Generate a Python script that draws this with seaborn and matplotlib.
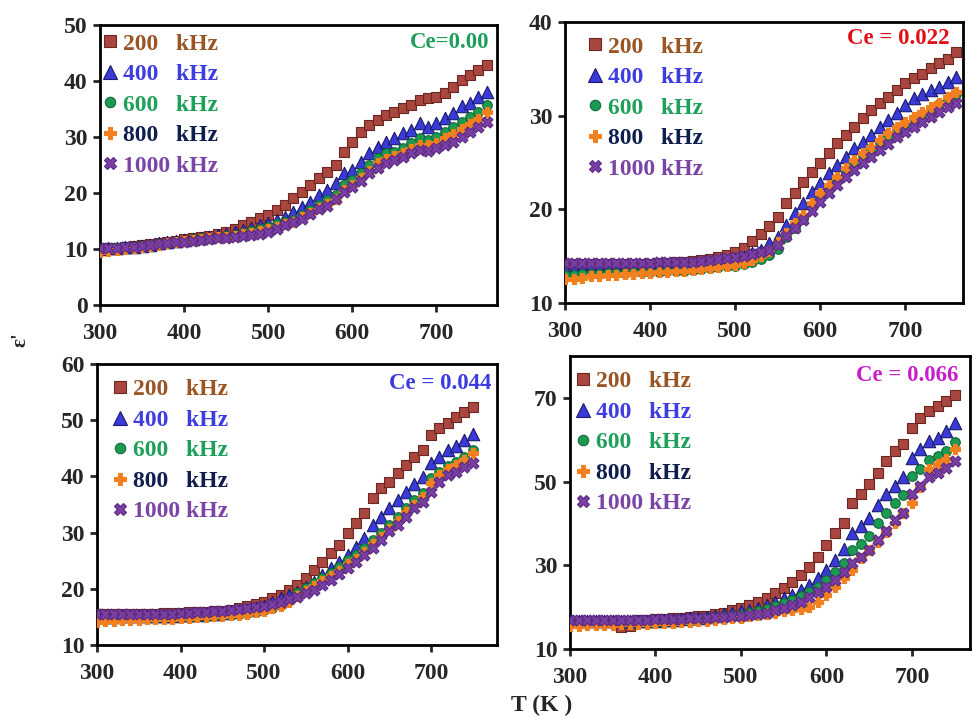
import numpy as np
import pandas as pd
import matplotlib
matplotlib.use("Agg")
import matplotlib.pyplot as plt
from matplotlib.lines import Line2D
import seaborn as sns

# ---------------- data ----------------
T_a = [300, 310, 320, 330, 340, 350, 360, 370, 380, 390, 400, 410, 420, 430, 440, 450,
       460, 470, 480, 490, 500, 510, 520, 530, 540, 550, 560, 570, 580, 590, 600, 610,
       620, 630, 640, 650, 660, 670, 680, 690, 700, 710, 720, 730, 740, 750, 760]
T_b = [300, 310, 320, 330, 340, 350, 360, 370, 380, 390, 400, 410, 420, 430, 440, 450,
       460, 470, 480, 490, 500, 510, 520, 530, 540, 550, 560, 570, 580, 590, 600, 610,
       620, 630, 640, 650, 660, 670, 680, 690, 700, 710, 720, 730, 740, 750]

freq_labels = ["200   kHz", "400   kHz", "600   kHz", "800   kHz", "1000 kHz"]
ce_labels = ["Ce=0.00", "Ce = 0.022", "Ce = 0.044", "Ce = 0.066"]

# Ce = 0.00
e00_200 = [10.0, 10.1, 10.2, 10.3, 10.5, 10.7, 10.9, 11.1, 11.3, 11.5, 11.7, 11.9, 12.1, 12.4, 12.7, 13.0,
           13.6, 14.3, 14.8, 15.5, 16.1, 17.0, 17.9, 19.1, 20.2, 21.4, 22.7, 23.8, 25.0, 27.3, 29.1, 30.9,
           32.1, 33.0, 33.9, 34.5, 35.2, 35.7, 36.6, 37.0, 37.1, 37.8, 38.9, 40.2, 41.1, 42.0, 42.9]
e00_400 = [10.0, 10.1, 10.2, 10.3, 10.4, 10.6, 10.8, 11.0, 11.2, 11.4, 11.6, 11.8, 12.0, 12.2, 12.5, 12.7,
           13.0, 13.4, 13.8, 14.3, 14.6, 15.2, 15.7, 16.6, 17.5, 18.4, 19.6, 20.5, 21.8, 23.6, 24.1, 25.5,
           27.1, 28.2, 29.1, 29.8, 30.7, 31.2, 32.5, 31.8, 32.5, 33.4, 34.3, 35.5, 36.1, 37.1, 38.0]
e00_600 = [9.9, 10.0, 10.1, 10.2, 10.3, 10.5, 10.7, 10.9, 11.1, 11.3, 11.5, 11.7, 11.9, 12.0, 12.2, 12.3,
           12.5, 12.8, 13.2, 13.6, 14.0, 14.4, 14.8, 15.2, 16.1, 17.0, 17.9, 18.8, 19.6, 21.4, 22.3, 23.6,
           25.0, 26.2, 27.1, 27.3, 28.0, 28.9, 29.8, 29.5, 30.0, 30.9, 31.8, 32.7, 33.6, 34.5, 35.7]
e00_800 = [9.5, 9.7, 9.9, 10.0, 10.2, 10.4, 10.6, 10.8, 11.0, 11.2, 11.4, 11.6, 11.8, 11.9, 12.1, 12.2,
           12.4, 12.6, 12.9, 13.3, 13.6, 14.0, 14.4, 14.9, 15.7, 16.5, 17.3, 18.1, 19.0, 20.6, 21.4, 22.6,
           24.0, 25.3, 26.1, 26.6, 27.2, 27.9, 28.6, 28.5, 29.0, 29.8, 30.6, 31.5, 32.4, 33.2, 34.4]
e00_1000 = [10.1, 10.1, 10.2, 10.3, 10.4, 10.6, 10.7, 10.9, 11.0, 11.2, 11.3, 11.5, 11.6, 11.8, 11.9, 12.0,
            12.1, 12.3, 12.5, 12.7, 13.0, 13.6, 14.2, 14.8, 15.4, 16.3, 17.1, 17.7, 18.9, 20.1, 21.0, 22.1,
            23.6, 24.5, 25.4, 25.9, 26.5, 27.1, 27.7, 27.5, 28.0, 28.6, 29.1, 30.0, 30.9, 31.8, 32.7]

# Ce = 0.022
e022_200 = [14.2, 14.2, 14.2, 14.2, 14.2, 14.2, 14.2, 14.2, 14.2, 14.2, 14.2, 14.3, 14.3, 14.4, 14.4, 14.5,
            14.6, 14.7, 14.9, 15.1, 15.4, 15.9, 16.6, 17.4, 18.2, 19.2, 20.7, 21.7, 22.9, 24.0, 25.0, 26.0,
            27.1, 27.9, 28.8, 29.7, 30.6, 31.3, 32.0, 32.7, 33.5, 34.0, 34.5, 35.1, 35.6, 36.1, 36.8]
e022_400 = [13.6, 13.6, 13.7, 13.7, 13.7, 13.8, 13.8, 13.8, 13.9, 13.9, 13.9, 14.0, 14.0, 14.0, 14.1, 14.1,
            14.2, 14.3, 14.4, 14.5, 14.7, 14.9, 15.3, 15.7, 16.4, 17.0, 18.3, 19.6, 20.7, 21.8, 22.8, 23.9,
            24.7, 25.6, 26.5, 27.2, 27.9, 28.8, 29.5, 30.3, 31.1, 31.9, 32.3, 32.7, 33.1, 33.6, 34.1]
e022_600 = [13.0, 13.0, 13.1, 13.1, 13.1, 13.2, 13.2, 13.2, 13.3, 13.3, 13.3, 13.3, 13.4, 13.4, 13.4, 13.5,
            13.6, 13.7, 13.8, 13.9, 14.0, 14.2, 14.4, 14.7, 15.1, 15.8, 17.0, 18.0, 19.0, 20.2, 21.3, 22.2,
            23.1, 24.0, 24.9, 25.7, 26.4, 27.1, 27.8, 28.5, 29.0, 29.6, 30.1, 30.6, 31.2, 31.7, 32.3]
e022_800 = [12.6, 12.6, 12.7, 12.9, 12.9, 13.0, 13.0, 13.1, 13.1, 13.2, 13.2, 13.3, 13.3, 13.4, 13.4, 13.5,
            13.6, 13.7, 13.8, 14.0, 14.1, 14.3, 14.6, 15.0, 15.6, 16.5, 17.5, 18.5, 19.4, 20.7, 21.7, 22.6,
            23.5, 24.4, 25.3, 26.0, 26.7, 27.4, 28.1, 28.8, 29.3, 29.9, 30.4, 30.9, 31.4, 32.0, 32.5]
e022_1000 = [14.3, 14.3, 14.3, 14.3, 14.3, 14.3, 14.3, 14.3, 14.3, 14.3, 14.3, 14.4, 14.4, 14.4, 14.4, 14.4,
             14.5, 14.6, 14.7, 14.8, 14.9, 15.0, 15.2, 15.4, 15.7, 16.2, 17.1, 18.0, 18.9, 19.8, 20.8, 21.7,
             22.6, 23.5, 24.2, 24.9, 25.6, 26.3, 27.0, 27.7, 28.3, 28.8, 29.3, 29.9, 30.4, 30.9, 31.4]

# Ce = 0.044
e044_200 = [15.6, 15.6, 15.6, 15.6, 15.6, 15.6, 15.6, 15.6, 15.7, 15.7, 15.7, 15.8, 15.8, 15.9, 16.0, 16.1,
            16.3, 16.6, 16.9, 17.3, 17.7, 18.3, 18.9, 19.8, 20.7, 21.9, 23.3, 24.8, 26.4, 27.8, 29.9, 31.7,
            33.5, 36.2, 37.9, 39.0, 40.6, 42.0, 43.5, 44.7, 47.3, 48.6, 49.5, 50.6, 51.5, 52.3]
e044_400 = [15.0, 15.0, 15.0, 15.1, 15.1, 15.1, 15.1, 15.2, 15.2, 15.2, 15.3, 15.3, 15.4, 15.5, 15.6, 15.7,
            15.8, 16.0, 16.3, 16.6, 17.0, 17.6, 18.3, 18.9, 19.4, 20.3, 21.2, 22.5, 23.7, 24.8, 26.0, 27.4,
            29.0, 31.4, 32.8, 34.4, 35.8, 37.2, 38.6, 39.9, 42.4, 43.5, 44.7, 45.4, 46.5, 47.5]
e044_600 = [14.8, 14.8, 14.8, 14.8, 14.8, 14.8, 14.8, 14.8, 14.9, 14.9, 14.9, 15.0, 15.0, 15.1, 15.2, 15.3,
            15.4, 15.5, 15.7, 15.9, 16.2, 16.6, 17.1, 18.0, 19.3, 20.1, 21.0, 21.9, 22.8, 23.9, 25.1, 26.0,
            27.3, 28.7, 29.9, 31.4, 32.8, 34.4, 35.8, 37.0, 39.7, 40.8, 41.8, 42.6, 43.5, 44.7]
e044_800 = [14.1, 14.2, 14.3, 14.4, 14.5, 14.5, 14.6, 14.6, 14.7, 14.7, 14.8, 14.8, 14.9, 15.0, 15.1, 15.2,
            15.3, 15.4, 15.6, 15.8, 16.1, 16.5, 17.0, 17.7, 18.7, 19.6, 20.5, 21.3, 22.2, 23.2, 24.4, 25.3,
            26.6, 27.9, 29.2, 30.6, 32.0, 33.6, 35.0, 36.3, 38.9, 40.2, 41.3, 42.1, 43.0, 44.2]
e044_1000 = [15.6, 15.6, 15.6, 15.6, 15.6, 15.6, 15.6, 15.6, 15.6, 15.6, 15.7, 15.7, 15.8, 15.9, 16.0, 16.1,
             16.2, 16.4, 16.6, 16.8, 17.0, 17.3, 17.7, 18.1, 18.6, 19.2, 19.8, 20.7, 21.6, 22.6, 23.7, 24.8,
             26.0, 27.2, 28.7, 30.2, 31.4, 32.7, 34.4, 35.5, 37.3, 39.0, 40.2, 40.8, 41.6, 42.4]

# Ce = 0.066
e066_200 = [16.8, 16.8, 16.8, 16.8, 16.8, 16.8, 15.2, 15.4, 16.9, 17.0, 17.1, 17.2, 17.3, 17.4, 17.6, 17.8,
            18.0, 18.3, 18.7, 19.2, 19.8, 20.5, 21.2, 22.1, 23.3, 24.5, 25.9, 27.6, 29.5, 31.9, 34.8, 37.8,
            40.2, 44.8, 47.1, 49.5, 52.1, 55.0, 57.4, 59.0, 62.9, 65.2, 66.9, 68.1, 69.3, 70.6]
e066_400 = [16.6, 16.6, 16.6, 16.6, 16.6, 16.6, 16.6, 16.7, 16.7, 16.8, 16.8, 16.9, 17.0, 17.2, 17.3, 17.5,
            17.7, 18.0, 18.3, 18.7, 19.0, 19.4, 19.8, 20.5, 21.2, 22.1, 22.9, 24.0, 25.2, 26.9, 28.8, 31.2,
            34.0, 37.6, 39.5, 41.4, 44.3, 47.1, 49.0, 51.0, 55.7, 57.9, 59.8, 60.5, 62.1, 64.0]
e066_600 = [16.1, 16.1, 16.1, 16.1, 16.1, 16.1, 16.1, 16.1, 16.2, 16.2, 16.3, 16.4, 16.5, 16.6, 16.7, 16.9,
            17.1, 17.3, 17.6, 17.9, 18.2, 18.6, 19.0, 19.6, 20.2, 20.9, 21.7, 22.6, 23.6, 24.8, 26.4, 28.3,
            30.5, 33.6, 35.2, 37.1, 40.0, 42.4, 44.8, 46.7, 51.4, 53.1, 55.2, 56.2, 57.4, 59.5]
e066_800 = [15.6, 15.6, 15.7, 15.7, 15.8, 15.8, 15.9, 15.9, 16.0, 16.0, 16.1, 16.2, 16.3, 16.4, 16.5, 16.6,
            16.8, 17.0, 17.2, 17.4, 17.5, 17.8, 18.1, 18.4, 18.7, 19.0, 19.2, 19.5, 20.1, 21.2, 22.9, 24.8,
            26.9, 28.8, 31.7, 33.6, 35.5, 37.9, 40.2, 42.4, 44.8, 48.6, 53.1, 54.3, 55.5, 57.9]
e066_1000 = [17.0, 17.0, 17.0, 17.0, 17.0, 17.0, 17.0, 17.0, 17.0, 17.0, 17.1, 17.1, 17.2, 17.2, 17.3, 17.4,
             17.5, 17.6, 17.7, 17.9, 18.0, 18.2, 18.4, 18.6, 19.3, 19.8, 20.5, 21.2, 22.4, 23.6, 24.8, 26.4,
             28.3, 30.5, 31.9, 33.6, 36.0, 38.3, 40.7, 42.6, 47.1, 49.0, 51.0, 52.1, 53.3, 55.0]

panels = [
    (T_a, [e00_200, e00_400, e00_600, e00_800, e00_1000]),
    (T_a, [e022_200, e022_400, e022_600, e022_800, e022_1000]),
    (T_b, [e044_200, e044_400, e044_600, e044_800, e044_1000]),
    (T_b, [e066_200, e066_400, e066_600, e066_800, e066_1000]),
]

# ---------------- style ----------------
sns.set_theme(style="ticks")
plt.rcParams["font.family"] = ["Liberation Serif", "DejaVu Serif"]
plt.rcParams["font.weight"] = "bold"

markers = ["s", "^", "o", "P", "X"]
sizes = [60, 80, 48, 62, 62]
face = ["#A8463F", "#3A3AD6", "#1C9A52", "#F2801E", "#7A3EA4"]
edge = ["#6B2722", "#1A1A6E", "#0F6A35", "#F2801E", "#5A2A82"]
label_colors = ["#9A5524", "#3D3DE0", "#1FA05A", "#0E1E4E", "#7A45A5"]
ce_colors = ["#1E9E5A", "#E0101A", "#3B3BE0", "#C81EC8"]

W, H = 973, 718
boxes = [(100, 25, 497, 305), (565, 22, 963, 303), (97, 364, 497, 645), (570, 356, 970, 649)]
ylims = [(0, 50), (10, 40), (10, 60), (10, 80)]
yticks = [[0, 10, 20, 30, 40, 50], [10, 20, 30, 40], [10, 20, 30, 40, 50, 60], [10, 30, 50, 70]]
xlims = [(300, 772), (300, 768), (300, 779), (300, 768)]
ce_pos = [(0.982, 0.939), (0.967, 0.943), (0.987, 0.932), (0.972, 0.935)]
leg_anchor = [(0.0015, 0.971), (0.052, 0.950), (0.034, 0.947), (0.009, 0.949)]

fig = plt.figure(figsize=(W / 100, H / 100), dpi=100)

for i, (T, series) in enumerate(panels):
    l, t, r, b = boxes[i]
    ax = fig.add_axes([l / W, 1 - b / H, (r - l) / W, (b - t) / H])
    for j, vals in enumerate(series):
        df = pd.DataFrame({"T": T, "eps": vals})
        sns.scatterplot(data=df, x="T", y="eps", marker=markers[j], s=sizes[j],
                        color=face[j], edgecolor=edge[j], linewidth=0.8,
                        ax=ax, legend=False, zorder=3 + j, clip_on=True)
    ax.set_xlim(*xlims[i])
    ax.set_ylim(*ylims[i])
    ax.set_xticks([300, 400, 500, 600, 700])
    ax.set_yticks(yticks[i])
    ax.set_xlabel("")
    ax.set_ylabel("")
    for sp in ax.spines.values():
        sp.set_visible(True)
        sp.set_linewidth(2.0)
        sp.set_color("black")
    ax.tick_params(axis="both", which="major", direction="out", length=5, width=2,
                   labelsize=17)
    ax.tick_params(axis="x", pad=8)
    ax.tick_params(axis="y", pad=4)
    for lab in ax.get_xticklabels() + ax.get_yticklabels():
        lab.set_fontweight("bold")

    handles = [Line2D([], [], linestyle="", marker=markers[j], markersize=[8, 9.5, 7.5, 8.5, 8.5][j],
                      markerfacecolor=face[j], markeredgecolor=edge[j], markeredgewidth=0.8)
               for j in range(5)]
    ax.legend(handles, freq_labels, loc="upper left", bbox_to_anchor=leg_anchor[i],
              frameon=False, prop={"size": 17, "weight": "bold"}, handlelength=0.8,
              handletextpad=0.15, labelspacing=0.38, borderaxespad=0.0,
              borderpad=0.0, labelcolor=label_colors)
    ax.text(ce_pos[i][0], ce_pos[i][1], ce_labels[i], transform=ax.transAxes,
            ha="right", va="center", fontsize=16.5, fontweight="bold", color=ce_colors[i])

fig.text(20 / W, 1 - 340 / H, "ε'", rotation=90, ha="center", va="center",
         fontsize=15, fontweight="bold")
fig.text(542 / W, 1 - 705 / H, "T (K )", ha="center", va="center",
         fontsize=17, fontweight="bold")

fig.savefig("out.png", dpi=100)
